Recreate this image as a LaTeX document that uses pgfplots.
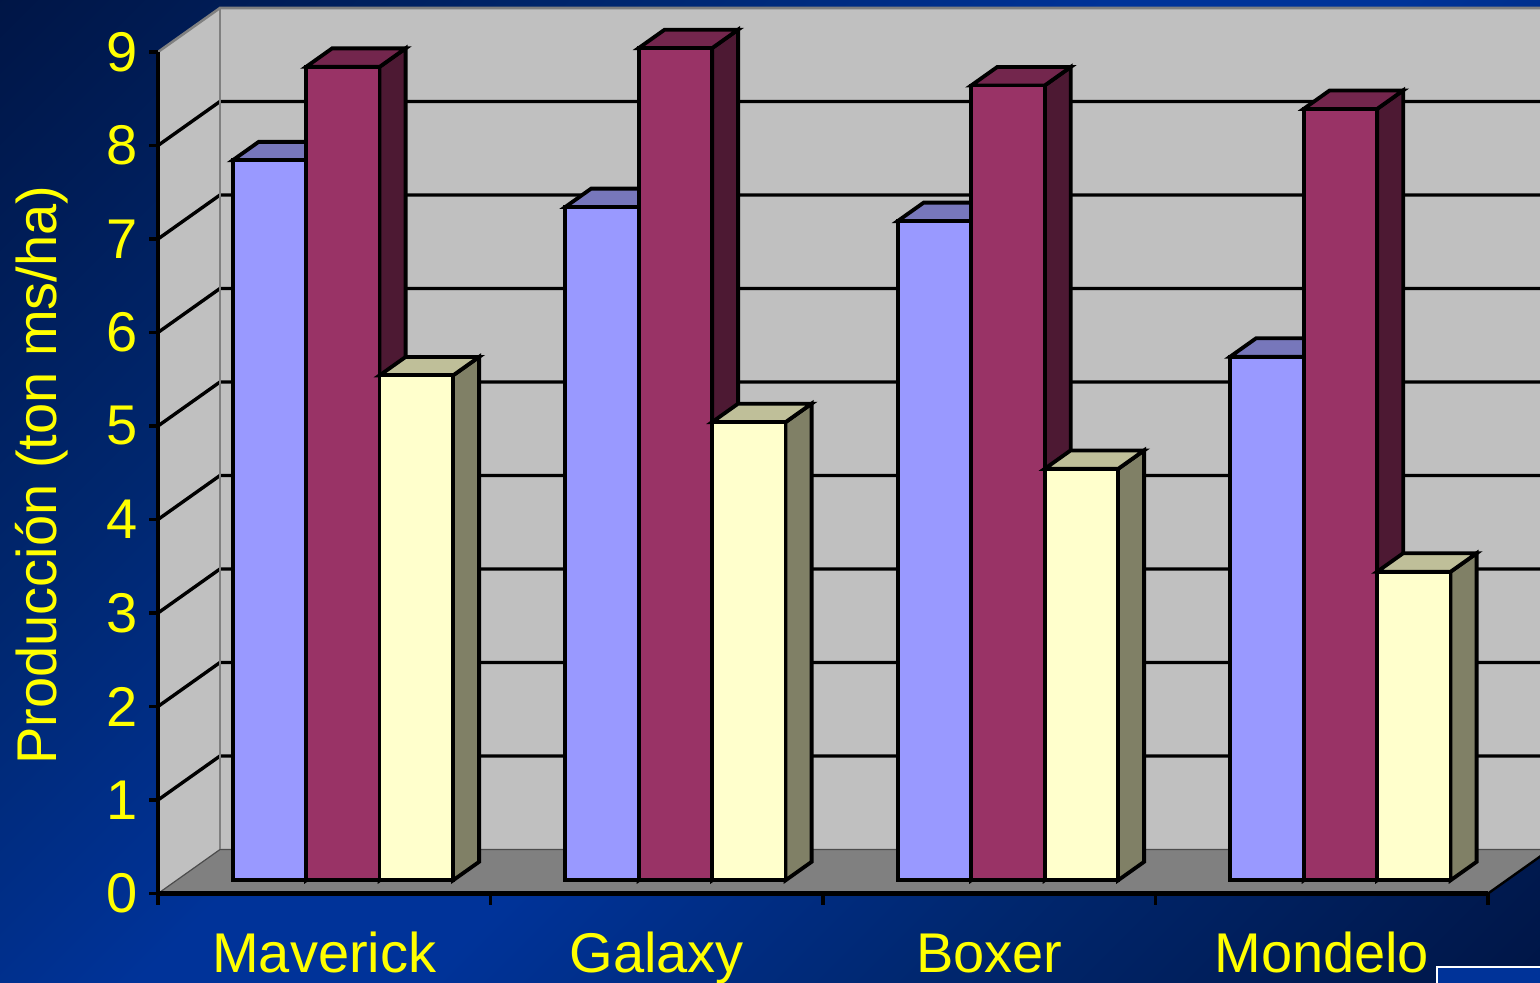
\documentclass[border=0pt]{standalone}
\usepackage{pgfplots}
\pgfplotsset{compat=1.18}
\usepackage{pgfplotstable}
\usepackage{fontspec}
\setmainfont{Liberation Sans}

% slide and chart colours
\definecolor{bgdark}{HTML}{001545}
\definecolor{bgmid}{HTML}{00276F}
\definecolor{bgbright}{HTML}{003399}
\definecolor{wall}{HTML}{C0C0C0}
\definecolor{floorgray}{HTML}{808080}
\definecolor{edgegray}{HTML}{808080}
\definecolor{lblyellow}{HTML}{FFFF00}
\definecolor{blueF}{HTML}{9999FF}\definecolor{blueT}{HTML}{7777BB}\definecolor{blueS}{HTML}{4D4D80}
\definecolor{marF}{HTML}{993366}\definecolor{marT}{HTML}{73264D}\definecolor{marS}{HTML}{4D1933}
\definecolor{yelF}{HTML}{FFFFCC}\definecolor{yelT}{HTML}{BFBF99}\definecolor{yelS}{HTML}{808066}

\pgfdeclareverticalshading{slidebg}{100bp}{color(0bp)=(bgdark); color(14bp)=(bgdark); color(32bp)=(bgmid); color(46bp)=(bgbright); color(54bp)=(bgbright); color(68bp)=(bgmid); color(86bp)=(bgdark); color(100bp)=(bgdark)}

% yield per cultivar and treatment
\pgfplotstableread{
idx blue maroon yellow
0 7.7 8.7 5.4
1 7.2 8.9 4.9
2 7.05 8.5 4.4
3 5.6 8.25 3.3
}\yielddata

% oblique depth: full depth of the floor in axis units
\def\DX{0.18647}
\def\DY{0.47059}
% bars sit between depth \FA and \FB; bar width in category units
\def\FA{0.30}
\def\FB{0.72}
\def\BW{0.221}

\pgfplotsset{barface/.style={draw=black, line width=1.9pt}}

% one 3-D bar: #1 left edge, #2 value, #3 front, #4 top, #5 side colour
\newcommand\solidbar[5]{%
  \pgfmathsetmacro\xa{#1+\FA*\DX}%
  \pgfmathsetmacro\xb{#1+\BW+\FA*\DX}%
  \pgfmathsetmacro\xc{#1+\FB*\DX}%
  \pgfmathsetmacro\xd{#1+\BW+\FB*\DX}%
  \pgfmathsetmacro\ya{\FA*\DY}%
  \pgfmathsetmacro\yb{#2+\FA*\DY}%
  \pgfmathsetmacro\yc{\FB*\DY}%
  \pgfmathsetmacro\yd{#2+\FB*\DY}%
  \edef\temp{%
    \noexpand\addplot[fill=#5, barface] coordinates {(\xb,\ya) (\xd,\yc) (\xd,\yd) (\xb,\yb)} -- cycle;
    \noexpand\addplot[fill=#4, barface] coordinates {(\xa,\yb) (\xb,\yb) (\xd,\yd) (\xc,\yd)} -- cycle;
    \noexpand\addplot[fill=#3, barface] coordinates {(\xa,\ya) (\xb,\ya) (\xb,\yb) (\xa,\yb)} -- cycle;
  }\temp
}

% gridline at value #1 across the left wall and the back wall
\newcommand\wallline[1]{%
  \pgfmathsetmacro\yw{#1+\DY}%
  \edef\temp{\noexpand\draw[black, line width=1.7pt] (axis cs:0,#1) -- (axis cs:\DX,\yw) -- (axis cs:4.4,\yw);}\temp
}

\newcommand\lblfont{\fontsize{28}{32}\selectfont}

\begin{document}
\begin{tikzpicture}
\begin{axis}[
  at={(0,0)}, anchor=south west,
  scale only axis, width=770pt, height=491.5pt,
  xmin=-0.475188, xmax=4.156391,
  ymin=-0.957219, ymax=9.556150,
  hide axis, clip=true,
]
% slide background
\shade[shading=slidebg, shading angle=45] (axis cs:-0.475188,-0.957219) rectangle (axis cs:4.156391,9.556150);

% back wall, left wall and floor
\fill[wall] (axis cs:0.18647,0.47059) rectangle (axis cs:4.4,9.47059);
\fill[wall] (axis cs:0,0) -- (axis cs:0.18647,0.47059) -- (axis cs:0.18647,9.47059) -- (axis cs:0,9) -- cycle;
\filldraw[fill=floorgray, draw=black!70, line width=0.6pt] (axis cs:0,0) -- (axis cs:4,0) -- (axis cs:4.18647,0.47059) -- (axis cs:0.18647,0.47059) -- cycle;

% gridlines
\pgfplotsinvokeforeach{1,...,8}{\wallline{#1}}

% wall edges
\draw[edgegray, line width=1.3pt] (axis cs:0,9) -- (axis cs:0.18647,9.47059) -- (axis cs:4.4,9.47059);
\draw[edgegray, line width=1.3pt] (axis cs:0.18647,0.47059) -- (axis cs:0.18647,9.47059);
\draw[black, line width=1.2pt] (axis cs:4,0) -- (axis cs:4.18647,0.47059);

% bars
\pgfplotsforeachungrouped \i in {0,...,3}{%
  \pgfmathsetmacro\cl{\i+0.5-1.5*\BW}%
  \pgfplotstablegetelem{\i}{blue}\of\yielddata
  \solidbar{\cl}{\pgfplotsretval}{blueF}{blueT}{blueS}%
  \pgfmathsetmacro\cl{\i+0.5-0.5*\BW}%
  \pgfplotstablegetelem{\i}{maroon}\of\yielddata
  \solidbar{\cl}{\pgfplotsretval}{marF}{marT}{marS}%
  \pgfmathsetmacro\cl{\i+0.5+0.5*\BW}%
  \pgfplotstablegetelem{\i}{yellow}\of\yielddata
  \solidbar{\cl}{\pgfplotsretval}{yelF}{yelT}{yelS}%
}

% front axes and ticks
\draw[black, line width=1.6pt] (axis cs:0,0) -- (axis cs:0,9);
\draw[black, line width=2.2pt] (axis cs:0,0) -- (axis cs:4,0);
\pgfplotsinvokeforeach{0,...,9}{%
  \draw[black, line width=1.6pt] (axis cs:0,#1) -- ([xshift=-4.5pt]axis cs:0,#1);
  \node[anchor=east, inner sep=0pt, text=lblyellow, font=\lblfont] at ([xshift=-10pt]axis cs:0,#1) {#1};
}
\pgfplotsinvokeforeach{0,...,4}{%
  \draw[black, line width=1.6pt] (axis cs:#1,0) -- ([yshift=-6pt]axis cs:#1,0);
}

% category names
\node[anchor=base, inner sep=0pt, text=lblyellow, font=\lblfont] at (axis cs:0.5,-0.85) {Maverick};
\node[anchor=base, inner sep=0pt, text=lblyellow, font=\lblfont] at (axis cs:1.5,-0.85) {Galaxy};
\node[anchor=base, inner sep=0pt, text=lblyellow, font=\lblfont] at (axis cs:2.5,-0.85) {Boxer};
\node[anchor=base, inner sep=0pt, text=lblyellow, font=\lblfont] at (axis cs:3.5,-0.85) {Mondelo};

% value axis title
\node[rotate=90, anchor=center, inner sep=0pt, text=lblyellow, font=\lblfont] at (axis cs:-0.3489,4.476) {Producción (ton ms/ha)};

% slide frame in the corner
\filldraw[fill=bgbright, draw=white, line width=1.2pt] (axis cs:3.8466,-0.786) rectangle (axis cs:4.4,-1.3);
\end{axis}
\pgfresetboundingbox
\useasboundingbox (0,0) rectangle (770pt,491.5pt);
\end{tikzpicture}
\end{document}
